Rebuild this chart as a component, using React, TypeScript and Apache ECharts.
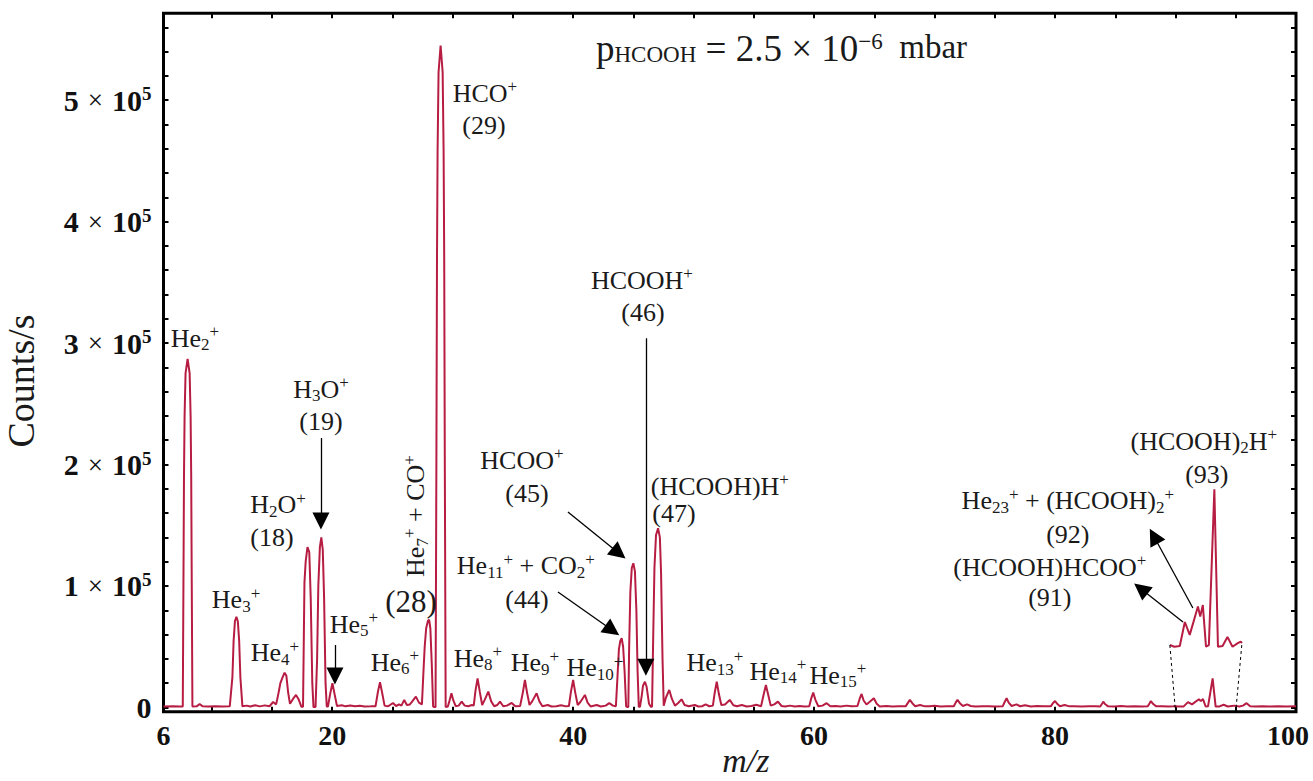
import React, { useEffect, useRef } from "react";
import * as echarts from "echarts";

// ---------- data: [m/z, counts/s] ----------
const spectrumLow: [number, number][] = [
  [6.0, 800], [6.8, 900], [7.3, 800], [7.6, 800],
  [7.67, 130000], [7.7, 190000], [7.75, 240000], [7.83, 275000], [8.0, 287000], [8.17, 275000], [8.25, 240000], [8.3, 190000], [8.33, 130000], [8.4, 800],
  [8.75, 900], [9.0, 2800], [9.25, 900], [9.7, 800], [10.3, 900], [10.9, 800], [11.5, 900],
  [11.55, 900], [11.72, 25000], [11.82, 55000], [11.93, 71000], [12.05, 74700], [12.17, 71000], [12.28, 55000], [12.38, 25000], [12.55, 900],
  [12.9, 1500], [13.2, 800], [13.6, 1800], [14.0, 900], [14.4, 1700], [14.8, 1000],
  [15.1, 4500], [15.35, 2500], [15.55, 12000], [15.7, 20000], [15.85, 24000], [16.05, 28600], [16.2, 26000], [16.35, 12000], [16.5, 3000], [16.75, 7000], [17.0, 10300], [17.2, 7000], [17.45, 500],
  [17.58, 500], [17.65, 60000], [17.7, 103000], [17.8, 120000], [17.95, 132000], [18.1, 128000], [18.22, 90000], [18.35, 20000], [18.45, 300],
  [18.62, 300], [18.75, 40000], [18.85, 100000], [18.98, 132000], [19.1, 140000], [19.22, 130000], [19.33, 90000], [19.45, 20000], [19.55, 800],
  [19.65, 800], [19.85, 12000], [20.02, 19900], [20.2, 11000], [20.4, 1200],
  [20.8, 1800], [21.1, 900], [21.5, 1600], [21.9, 900], [22.3, 1400], [22.7, 800], [23.2, 900], [23.6, 1000],
  [23.8, 13000], [23.97, 20700], [24.15, 12000], [24.35, 1500],
  [24.6, 900], [24.8, 2000], [25.05, 3700], [25.3, 1200], [25.55, 2500], [25.75, 1500], [25.98, 6200], [26.2, 2000], [26.45, 2500], [26.65, 5000], [26.95, 8900], [27.2, 4000], [27.45, 2500],
  [27.58, 30000], [27.68, 50000], [27.8, 65000], [27.95, 71500], [28.05, 72000], [28.15, 65000], [28.27, 35000], [28.38, 800], [28.5, 300],
  [28.58, 300], [28.65, 200000], [28.7, 368000], [28.75, 458000], [28.83, 523000], [29.0, 545000], [29.17, 523000], [29.25, 458000], [29.3, 368000], [29.35, 200000], [29.42, 300],
];

const spectrumMid: [number, number][] = [
  [29.6, 800], [29.75, 6000], [29.9, 11700], [30.05, 6000], [30.25, 1000], [30.5, 1500], [30.75, 4800], [31.0, 1500], [31.3, 1000], [31.6, 2000],
  [31.75, 1500], [31.9, 14000], [32.07, 24000], [32.25, 13000], [32.45, 2000], [32.65, 6000], [32.96, 13000], [33.2, 5000], [33.45, 1000], [33.7, 2000], [33.93, 4800], [34.2, 1000], [34.5, 1500], [34.9, 3700], [35.2, 1000], [35.6, 1200],
  [35.82, 12000], [36.0, 22600], [36.18, 12000], [36.38, 2000], [36.6, 5000], [36.97, 11700], [37.2, 5000], [37.45, 1000], [37.9, 2000], [38.2, 800], [38.6, 1000], [39.0, 1800], [39.4, 900], [39.65, 1200],
  [39.82, 13000], [40.0, 22600], [40.18, 12000], [40.38, 2000], [40.6, 4500], [40.98, 10300], [41.2, 4000], [41.45, 800], [41.95, 2000], [42.3, 800], [42.7, 1500], [43.0, 3500], [43.3, 1500], [43.55, 1000],
  [43.68, 25000], [43.8, 48000], [43.92, 55000], [44.03, 57000], [44.15, 50000], [44.27, 30000], [44.4, 800], [44.5, 300],
  [44.58, 300], [44.65, 50000], [44.75, 95000], [44.87, 115000], [45.0, 118700], [45.13, 112000], [45.25, 80000], [45.35, 30000], [45.45, 500],
  [45.55, 500], [45.7, 10000], [45.8, 18000], [45.96, 21200], [46.1, 17000], [46.3, 3000], [46.45, 500],
  [46.55, 500], [46.65, 60000], [46.75, 115000], [46.88, 142000], [47.05, 147500], [47.2, 140000], [47.3, 110000], [47.42, 40000], [47.52, 1500],
  [47.7, 8000], [47.98, 14400], [48.2, 7000], [48.45, 1500], [48.7, 3500], [49.0, 6700], [49.25, 2000], [49.6, 1000], [50.1, 2000], [50.4, 800], [50.7, 1000], [51.0, 2500], [51.3, 1000], [51.6, 1500],
  [51.75, 12000], [51.92, 21200], [52.1, 11000], [52.3, 2000], [52.6, 2500], [53.0, 6200], [53.3, 1800], [53.6, 1000], [54.0, 2000], [54.4, 800], [54.8, 1200], [55.2, 2200], [55.6, 1000],
  [55.8, 10000], [56.0, 18500], [56.2, 10000], [56.4, 1500], [56.7, 2500], [57.0, 4800], [57.3, 1200], [57.6, 800], [58.0, 1500], [58.4, 800], [58.8, 1200], [59.2, 800], [59.6, 1000],
  [59.75, 7000], [59.93, 12200], [60.1, 6500], [60.35, 1000],
];

const spectrumHigh: [number, number][] = [
  [60.7, 1500], [61.04, 3500], [61.35, 1000], [61.8, 1200], [62.2, 800], [62.7, 1500], [63.1, 900], [63.6, 1200],
  [63.78, 7000], [63.94, 11100], [64.12, 5500], [64.35, 2500], [64.6, 4500], [64.96, 7600], [65.2, 3000], [65.45, 800], [66.0, 1200], [66.5, 800], [67.0, 1000], [67.6, 900],
  [67.8, 4000], [67.95, 6200], [68.15, 3500], [68.4, 1000], [68.8, 2000], [69.2, 900], [69.6, 1000], [70.0, 1300], [70.5, 800], [71.0, 900], [71.6, 1000],
  [71.75, 4000], [71.9, 6200], [72.1, 3500], [72.35, 1200], [72.7, 2500], [73.0, 1200], [73.4, 800], [74.0, 1000], [74.5, 900], [75.0, 800], [75.65, 900],
  [75.82, 4500], [75.98, 7600], [76.15, 4000], [76.4, 1200], [76.8, 2500], [77.1, 1000], [77.5, 1800], [78.0, 800], [78.5, 1200], [79.0, 900], [79.65, 900],
  [79.82, 3500], [80.0, 5300], [80.18, 3000], [80.4, 1000], [80.8, 2000], [81.2, 900], [81.6, 1000], [82.2, 800], [82.8, 1000], [83.4, 900], [83.75, 800],
  [83.9, 3000], [84.0, 4800], [84.15, 2800], [84.4, 900], [84.9, 800], [85.5, 1100], [86.0, 800], [86.6, 900], [87.2, 800], [87.7, 900],
  [87.85, 3500], [87.95, 5300], [88.15, 2800], [88.4, 900], [88.9, 1000], [89.4, 800], [89.8, 900],
];

// cluster region 90–95, also shown magnified in the inset
const clusterRegion: [number, number][] = [
  [90.0, 1000], [90.3, 750], [90.68, 850], [91.03, 4400], [91.37, 2500], [91.94, 6700], [92.1, 5200], [92.28, 6900],
  [92.5, 750], [92.7, 1000], [93.08, 24000], [93.33, 750], [93.65, 850], [93.99, 2200], [94.34, 750], [94.68, 1250], [94.91, 1500], [95.0, 1300],
];

const spectrumTail: [number, number][] = [
  [95.3, 800], [95.6, 1500], [95.9, 3500], [96.2, 1000], [96.6, 800], [97.2, 1000], [97.8, 800], [98.5, 900], [99.2, 800], [100, 900],
];

// ---------- axes ----------
const xTickValues = [10, 15, 20, 25, 30, 35, 40, 45, 50, 55, 60, 65, 70, 75, 80, 85, 90, 95];
const xLabelValues = [6, 20, 40, 60, 80, 100];
const yTickValues = [
  0, 20000, 40000, 60000, 80000, 100000, 120000, 140000, 160000, 180000, 200000, 220000, 240000, 260000, 280000,
  300000, 320000, 340000, 360000, 380000, 400000, 420000, 440000, 460000, 480000, 500000, 520000, 540000, 560000,
];
const yLabelValues = [0, 100000, 200000, 300000, 400000, 500000];

// ---------- annotations: rich text, anchored at [m/z, counts] ----------
type Ann = { text: string; at: [number, number]; rotate?: number };
const annotations: Ann[] = [
  { text: "{t|He}{sub|2}{sup|+}", at: [8.61, 304000] },
  { text: "{t|He}{sub|3}{sup|+}", at: [12.02, 88500] },
  { text: "{t|He}{sub|4}{sup|+}", at: [15.25, 44900] },
  { text: "{t|H}{sub|2}{t|O}{sup|+}", at: [15.5, 166700] },
  { text: "{t|(18)}", at: [15.0, 140300] },
  { text: "{t|H}{sub|3}{t|O}{sup|+}", at: [19.07, 262000] },
  { text: "{t|(19)}", at: [19.07, 235800] },
  { text: "{t|He}{sub|5}{sup|+}", at: [21.81, 68700] },
  { text: "{t|He}{sub|6}{sup|+}", at: [25.21, 37400] },
  { text: "{t|He}{sub|7}{sup|+}{t| + CO}{sup|+}", at: [26.95, 157600], rotate: 90 },
  { text: "{big|(28)}", at: [26.54, 87600] },
  { text: "{t|HCO}{sup|+}", at: [32.68, 505700] },
  { text: "{t|(29)}", at: [32.6, 479400] },
  { text: "{t|HCOOH}{sup|+}", at: [45.71, 351800] },
  { text: "{t|(46)}", at: [45.79, 325500] },
  { text: "{t|HCOO}{sup|+}", at: [35.75, 203700] },
  { text: "{t|(45)}", at: [36.17, 176500] },
  { text: "{t|He}{sub|11}{sup|+}{t| + CO}{sub|2}{sup|+}", at: [36.08, 116500] },
  { text: "{t|(44)}", at: [36.17, 88500] },
  { text: "{t|He}{sub|8}{sup|+}", at: [32.1, 40700] },
  { text: "{t|He}{sub|9}{sup|+}", at: [36.83, 36600] },
  { text: "{t|He}{sub|10}{sup|+}", at: [41.81, 32500] },
  { text: "{t|(HCOOH)H}{sup|+}", at: [52.18, 182300] },
  { text: "{t|(47)}", at: [48.37, 159300] },
  { text: "{t|He}{sub|13}{sup|+}", at: [51.77, 36600] },
  { text: "{t|He}{sub|14}{sup|+}", at: [57.0, 30000] },
  { text: "{t|He}{sub|15}{sup|+}", at: [61.98, 26700] },
  { text: "{t|(HCOOH)}{sub|2}{t|H}{sup|+}", at: [92.35, 219300] },
  { text: "{t|(93)}", at: [92.6, 192200] },
  { text: "{t|He}{sub|23}{sup|+}{t| + (HCOOH)}{sub|2}{sup|+}", at: [81.06, 170000] },
  { text: "{t|(92)}", at: [81.06, 142800] },
  { text: "{t|(HCOOH)HCOO}{sup|+}", at: [79.57, 115600] },
  { text: "{t|(91)}", at: [79.57, 90900] },
];

const arrows: { from: [number, number]; to: [number, number] }[] = [
  { from: [19.07, 221800], to: [19.07, 153500] },
  { from: [20.23, 51400], to: [20.23, 25800] },
  { from: [46.04, 304000], to: [46.04, 33000] },
  { from: [39.57, 160900], to: [43.8, 127000] },
  { from: [38.74, 95100], to: [43.25, 63500] },
  { from: [91.44, 81900], to: [88.2, 141000] },
  { from: [90.62, 70400], to: [87.12, 97800] },
];

const zoomGuides: { from: [number, number]; to: [number, number] }[] = [
  { from: [89.53, 51400], to: [90.0, -3500] },
  { from: [95.5, 51400], to: [95.0, -3500] },
];

const SERIF = '"Liberation Serif", "Times New Roman", serif';
const RED = "#b71d42";
const INK = "#1a1a1a";

const annRich = {
  t: { fontFamily: SERIF, fontWeight: "normal", fontSize: 26, lineHeight: 30, color: INK, verticalAlign: "middle" },
  big: { fontFamily: SERIF, fontWeight: "normal", fontSize: 31, lineHeight: 34, color: INK, verticalAlign: "middle" },
  sub: { fontFamily: SERIF, fontWeight: "normal", fontSize: 17, lineHeight: 17, color: INK, verticalAlign: "bottom" },
  sup: { fontFamily: SERIF, fontWeight: "normal", fontSize: 17, lineHeight: 17, color: INK, verticalAlign: "top" },
};

export default function App() {
  const ref = useRef<HTMLDivElement>(null);

  useEffect(() => {
    if (!ref.current) return;
    const chart = echarts.init(ref.current, null, { renderer: "svg" });
    const spectrum = [...spectrumLow, ...spectrumMid, ...spectrumHigh, ...clusterRegion, ...spectrumTail];

    const tickStyle = { show: true, inside: true, length: 5, lineStyle: { color: "#000", width: 2 } };
    const hiddenLine = { show: false, onZero: false };
    const xLabelStyle = { fontFamily: SERIF, fontWeight: "bold", fontSize: 28, lineHeight: 30, color: "#111" };

    const option: any = {
      animation: false,
      backgroundColor: "#ffffff",
      title: {
        text: "{p|p}{sub|HCOOH}{t| = 2.5 × 10}{sup|−6}{u|  mbar}",
        left: 596,
        top: 30,
        padding: 0,
        textStyle: {
          fontWeight: "normal",
          rich: {
            p: { fontFamily: SERIF, fontWeight: "normal", fontSize: 37, lineHeight: 36, color: INK, verticalAlign: "top" },
            t: { fontFamily: SERIF, fontWeight: "normal", fontSize: 37, lineHeight: 36, color: INK, verticalAlign: "top" },
            u: { fontFamily: SERIF, fontWeight: "normal", fontSize: 33, lineHeight: 36, color: INK, verticalAlign: "top" },
            sub: { fontFamily: SERIF, fontWeight: "normal", fontSize: 23, lineHeight: 22, padding: [22, 0, 0, 0], color: INK, verticalAlign: "bottom" },
            sup: { fontFamily: SERIF, fontWeight: "normal", fontSize: 23, lineHeight: 22, color: INK, verticalAlign: "top" },
          },
        },
      },
      grid: [
        { left: 163.5, right: 17, top: 13.3, bottom: 69.3, show: true, borderColor: "#000", borderWidth: 3, backgroundColor: "transparent", containLabel: false, outerBoundsMode: "none" },
        { left: 1170, width: 72, top: 475.8, height: 176, show: false, containLabel: false, outerBoundsMode: "none" },
      ],
      xAxis: [
        {
          type: "value", gridIndex: 0, position: "bottom", min: 6, max: 100,
          axisLine: hiddenLine, splitLine: { show: false },
          axisTick: { ...tickStyle, customValues: xTickValues },
          axisLabel: {
            customValues: xLabelValues, margin: 9,
            formatter: (v: number) => (v === 100 ? `{r|${v}}` : `{n|${v}}`),
            rich: {
              n: xLabelStyle,
              r: { ...xLabelStyle, padding: [0, 16, 0, 0] },
            },
          },
          name: "m/z", nameLocation: "middle", nameGap: 33, nameMoveOverlap: false,
          nameTextStyle: { fontFamily: SERIF, fontStyle: "italic", fontSize: 34, lineHeight: 32, color: INK, padding: [0, 0, 0, 32] },
        },
        {
          type: "value", gridIndex: 0, position: "top", min: 6, max: 100,
          axisLine: hiddenLine, splitLine: { show: false },
          axisTick: { ...tickStyle, customValues: xTickValues },
          axisLabel: { show: false },
        },
        {
          type: "value", gridIndex: 1, min: 90, max: 95, show: false,
          axisLine: hiddenLine, splitLine: { show: false },
        },
      ],
      yAxis: [
        {
          type: "value", gridIndex: 0, position: "left", min: -3500, max: 571500,
          axisLine: hiddenLine, splitLine: { show: false },
          axisTick: { ...tickStyle, customValues: yTickValues },
          axisLabel: {
            customValues: yLabelValues, margin: 12,
            formatter: (v: number) => (v === 0 ? "{n|0}" : `{n|${Math.round(v / 100000)}}{x|×}{n|10}{s|5}`),
            rich: {
              n: { fontFamily: SERIF, fontWeight: "bold", fontSize: 30, lineHeight: 32, color: "#111", verticalAlign: "middle" },
              x: { fontFamily: SERIF, fontSize: 27, lineHeight: 32, color: "#111", padding: [0, 9, 0, 9], verticalAlign: "middle" },
              s: { fontFamily: SERIF, fontWeight: "bold", fontSize: 19, lineHeight: 19, color: "#111", verticalAlign: "top" },
            },
          },
          name: "Counts/s", nameLocation: "middle", nameGap: 124, nameRotate: 90, nameMoveOverlap: false,
          nameTextStyle: { fontFamily: SERIF, fontSize: 38, color: INK, padding: [0, 37, 0, 0] },
        },
        {
          type: "value", gridIndex: 0, position: "right", min: -3500, max: 571500,
          axisLine: hiddenLine, splitLine: { show: false },
          axisTick: { ...tickStyle, customValues: yTickValues },
          axisLabel: { show: false },
        },
        {
          type: "value", gridIndex: 1, min: 0, max: 26000, show: false,
          axisLine: hiddenLine, splitLine: { show: false },
        },
      ],
      series: [
        {
          type: "line", name: "HCOOH spectrum", xAxisIndex: 0, yAxisIndex: 0,
          data: spectrum, showSymbol: false, symbol: "none",
          lineStyle: { color: RED, width: 2 }, silent: true, z: 3,
          markPoint: {
            silent: true, animation: false,
            symbol: "circle", symbolSize: 1, itemStyle: { color: "rgba(0,0,0,0)" },
            label: { show: true, position: "inside", formatter: (p: any) => p.name, rich: annRich },
            data: annotations.map((a) => ({
              name: a.text, coord: a.at,
              label: a.rotate ? { rotate: a.rotate } : {},
            })),
          },
          markLine: {
            silent: true, animation: false,
            symbol: ["none", "triangle"], symbolSize: 17,
            label: { show: false },
            lineStyle: { color: "#000", width: 1.3, type: "solid" },
            data: [
              ...arrows.map((a) => [
                { coord: a.from, symbol: "none" },
                { coord: a.to, symbol: "triangle", symbolSize: 17 },
              ]),
              ...zoomGuides.map((g) => [
                { coord: g.from, symbol: "none", lineStyle: { type: [3, 3], width: 1, color: "#000" } },
                { coord: g.to, symbol: "none", lineStyle: { type: [3, 3], width: 1, color: "#000" } },
              ]),
            ],
          },
        },
        {
          type: "line", name: "inset (×5)", xAxisIndex: 2, yAxisIndex: 2,
          data: clusterRegion, showSymbol: false, symbol: "none",
          lineStyle: { color: RED, width: 2 }, silent: true, z: 3,
        },
      ],
    };

    chart.setOption(option);
    return () => chart.dispose();
  }, []);

  return (
    <div
      ref={ref}
      style={{ position: "fixed", left: 0, top: 0, width: 1313, height: 781, background: "#fff" }}
    />
  );
}
